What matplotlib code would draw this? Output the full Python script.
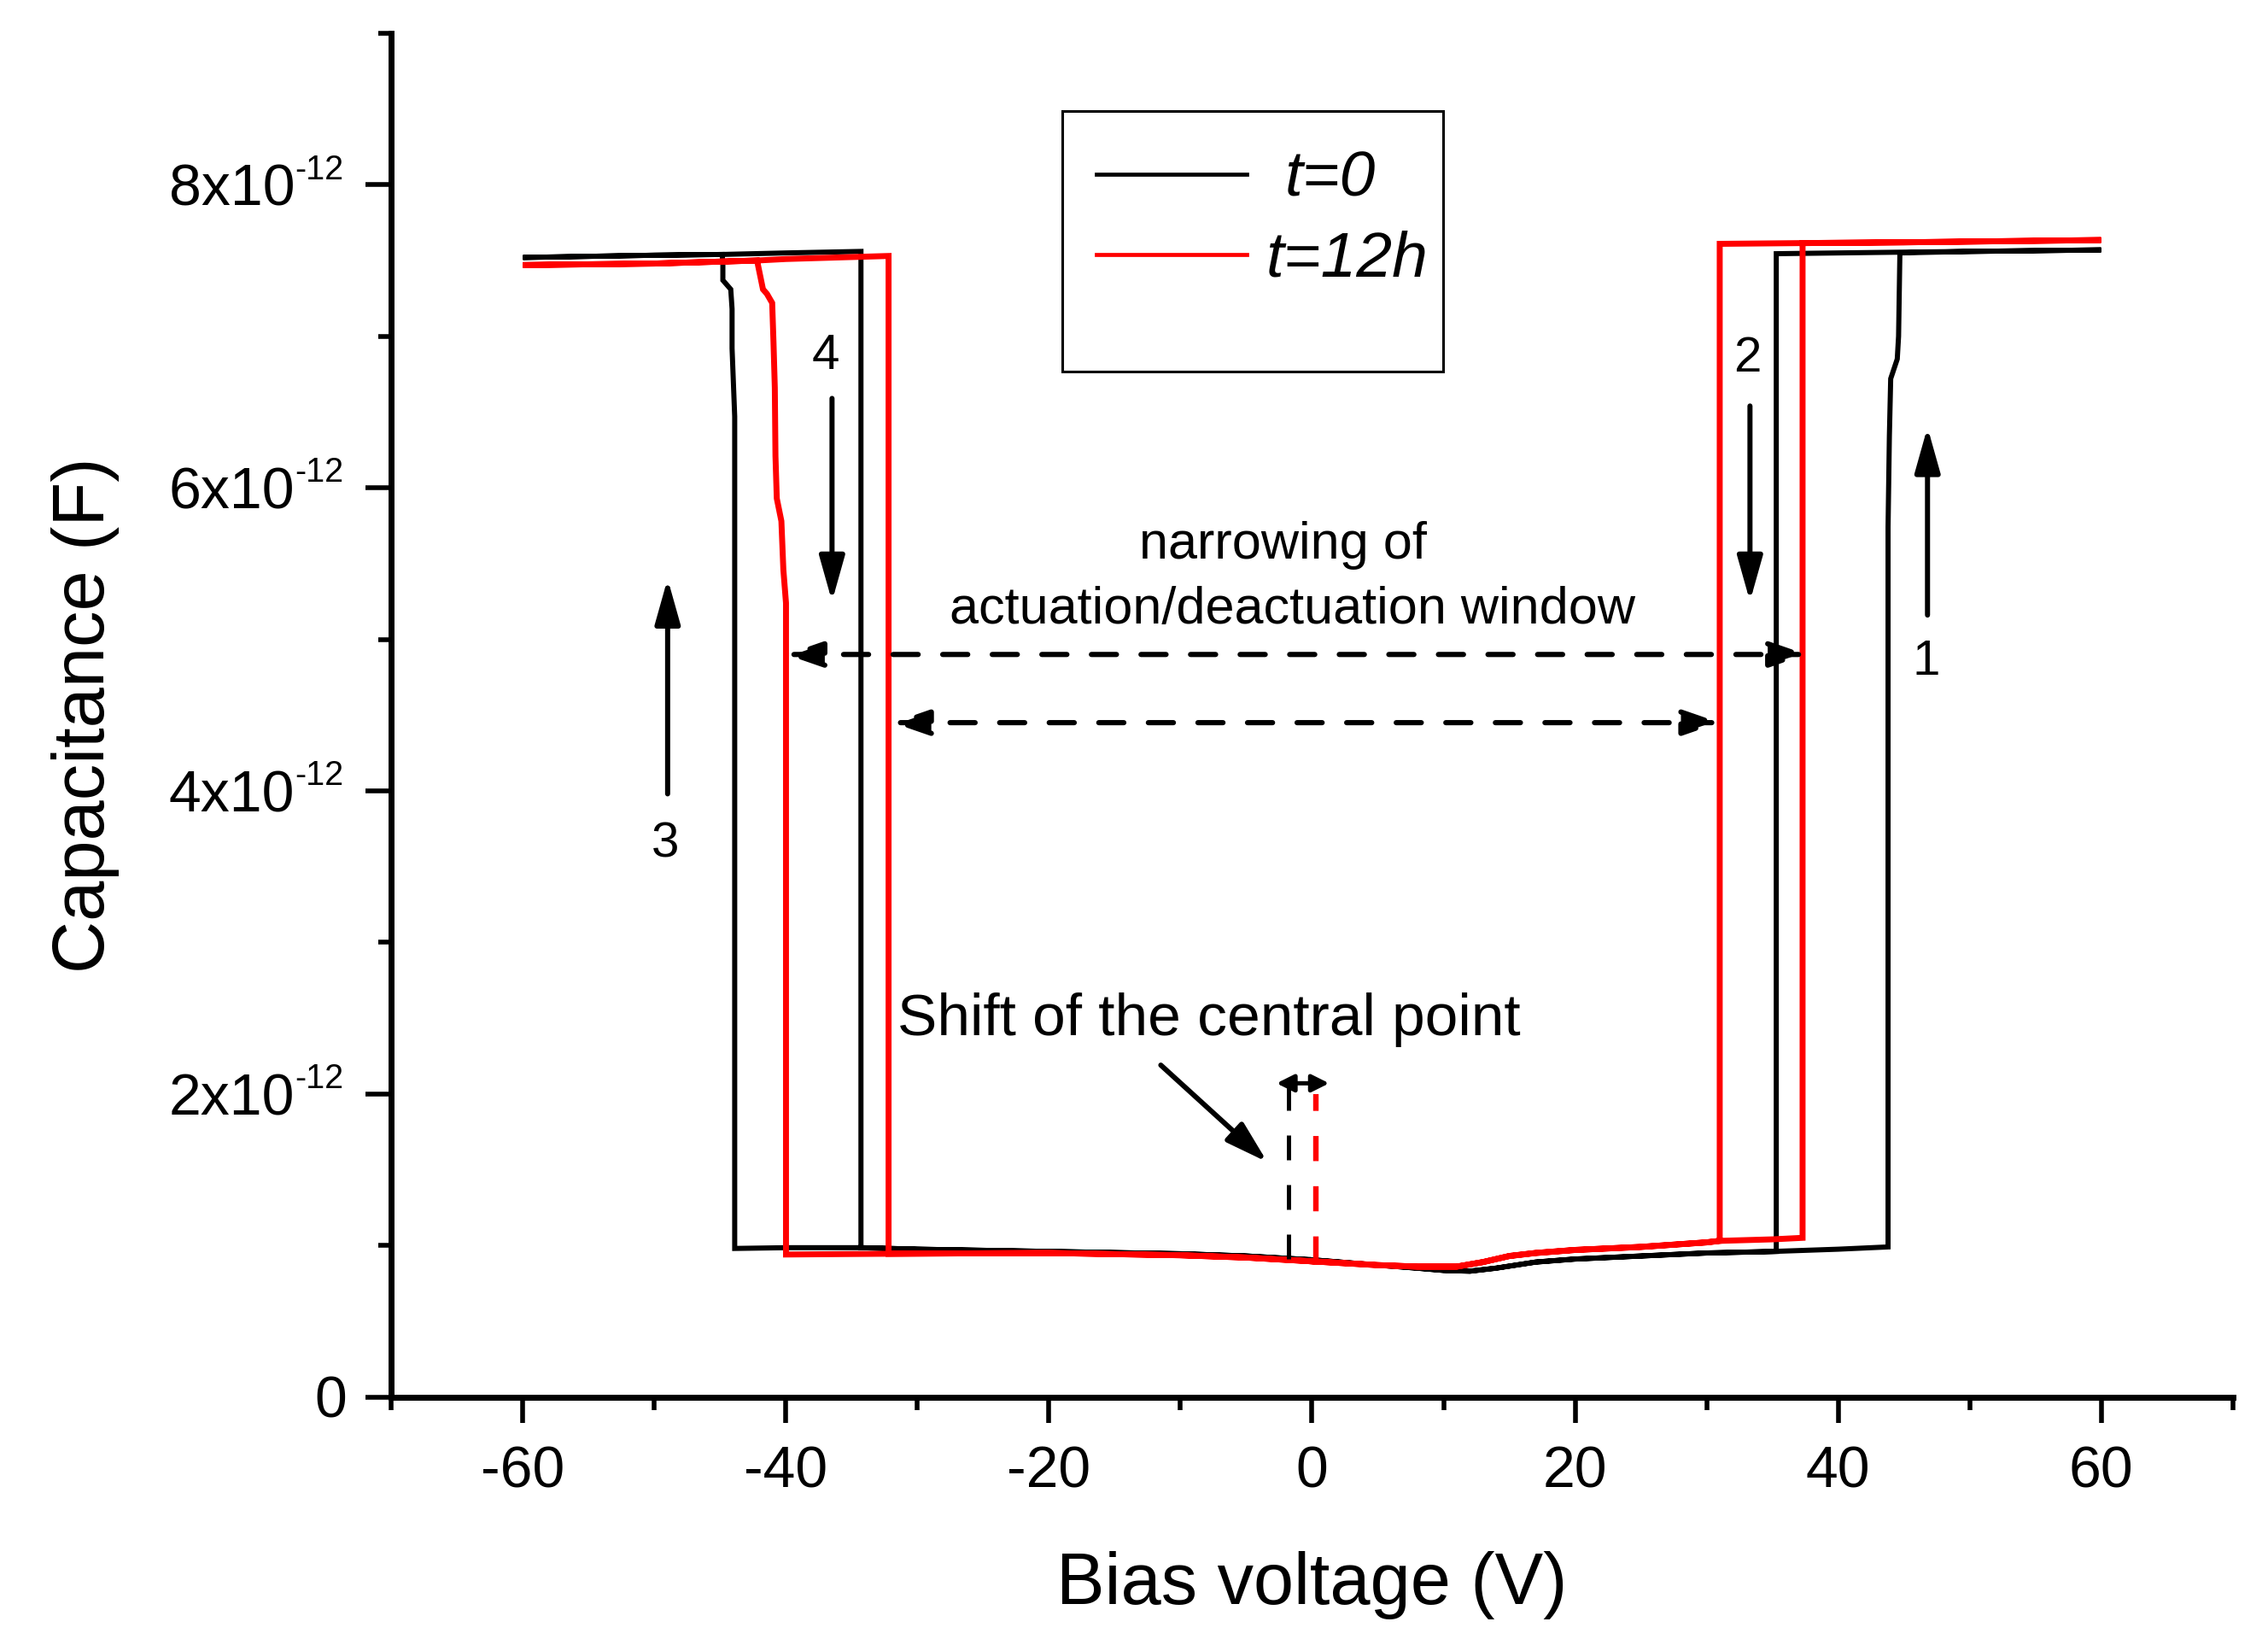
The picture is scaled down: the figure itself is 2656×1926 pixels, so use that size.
"""C-V hysteresis loops of the switch at t=0 and after 12 h."""

import matplotlib

matplotlib.use("Agg")
import matplotlib.pyplot as plt
import matplotlib.transforms as mtransforms
import numpy as np
from matplotlib.patches import Rectangle

PF = 1e-12

# t=0 loop, swept 0 -> +60 -> -60 -> 0 V (capacitance in pF)
v_t0 = [0, 5, 8, 10, 12, 14, 17, 20, 25, 30, 35, 40, 43.8, 43.8, 43.9, 44.0, 44.5, 44.6, 44.7, 50, 60,
        50, 44.7, 35.3, 35.3, 30, 25, 20, 17, 14, 12, 10, 8, 5, 0, -5, -10, -20, -30, -34.3, -40, -43.9,
        -43.9, -44.1, -44.1, -44.2, -44.8, -44.8, -44.85, -50, -60,
        -50, -44.85, -40, -34.3, -34.3, -30, -20, -10, -5, 0]
c_t0 = [0.905, 0.87, 0.85, 0.835, 0.83, 0.85, 0.89, 0.91, 0.93, 0.95, 0.96, 0.975, 0.99, 5.74, 6.34, 6.72, 6.85, 7.0, 7.55, 7.56, 7.57,
        7.56, 7.555, 7.545, 0.96, 0.95, 0.93, 0.91, 0.89, 0.85, 0.83, 0.835, 0.85, 0.87, 0.905, 0.93, 0.945, 0.96, 0.975, 0.985, 0.985, 0.98,
        6.47, 6.92, 7.18, 7.31, 7.37, 7.48, 7.54, 7.535, 7.52,
        7.535, 7.54, 7.55, 7.56, 0.985, 0.975, 0.96, 0.945, 0.93, 0.905]

# t=12h loop, same sweep order
v_t12 = [0, 5, 8, 11, 13, 15, 17, 20, 25, 30, 31.0, 35, 37.3, 37.3, 45, 50, 60,
         50, 45, 37.3, 31.0, 31.0, 30, 25, 20, 17, 15, 13, 11, 8, 5, 0, -5, -10, -20, -32.2, -40.0,
         -40.0, -40.2, -40.35, -40.7, -40.8, -40.85, -40.95, -41.05, -41.45, -41.75, -42.2, -50, -60,
         -50, -42.2, -40, -32.2, -32.2, -20, -10, -5, 0]
c_t12 = [0.895, 0.87, 0.86, 0.86, 0.89, 0.93, 0.95, 0.97, 0.99, 1.02, 1.03, 1.04, 1.05, 7.615, 7.62, 7.625, 7.635,
         7.625, 7.62, 7.615, 7.61, 1.03, 1.02, 0.99, 0.97, 0.95, 0.93, 0.89, 0.86, 0.86, 0.87, 0.895, 0.92, 0.935, 0.95, 0.945, 0.94,
         5.24, 5.46, 5.78, 5.93, 6.21, 6.66, 6.96, 7.22, 7.28, 7.31, 7.50, 7.48, 7.47,
         7.48, 7.50, 7.51, 7.53, 0.945, 0.95, 0.935, 0.92, 0.895]

x_major = [-60, -40, -20, 0, 20, 40, 60]
x_minor = [-70, -50, -30, -10, 10, 30, 50, 70]
y_major_pf = [0, 2, 4, 6, 8]
y_minor_pf = [1, 3, 5, 7, 9]

window_outer = (-40.0, 37.6)   # pull-in voltages after 12 h
window_inner = (-31.9, 31.0)   # release voltages after 12 h
center_t0 = -1.8
center_t12 = 0.3

plt.rcParams["font.family"] = ["Liberation Sans", "DejaVu Sans"]
plt.rcParams["axes.unicode_minus"] = False

fig = plt.figure(figsize=(26.56, 19.26), dpi=100)
ax = fig.add_axes([0.1726, 0.1508, 0.8118, 0.8290])

ax.plot(v_t0, np.array(c_t0) * PF, color="black", lw=4.3, solid_joinstyle="miter")
ax.plot(v_t12, np.array(c_t12) * PF, color="#ff0000", lw=5.0, solid_joinstyle="miter")

ax.set_xlim(-70, 70)
ax.set_ylim(0, 9 * PF)
ax.set_xticks(x_major)
ax.set_xticks(x_minor, minor=True)
ax.set_yticks(np.array(y_major_pf) * PF)
ax.set_yticks(np.array(y_minor_pf) * PF, minor=True)
ax.tick_params(which="major", direction="out", length=21.6, width=4.0, labelsize=49, pad=19)
ax.tick_params(which="minor", direction="out", length=10.8, width=4.0)
ax.tick_params(axis="y", labelleft=False)
for side in ("top", "right"):
    ax.spines[side].set_visible(False)
for side in ("left", "bottom"):
    ax.spines[side].set_linewidth(5.0)

# y tick labels in the "8x10^-12" form
ytrans = mtransforms.blended_transform_factory(ax.transAxes, ax.transData)
for v in y_major_pf:
    if v == 0:
        ax.annotate("0", xy=(0, 0), xycoords=ytrans, xytext=(-38, -17.5),
                    textcoords="offset points", ha="right", va="baseline", fontsize=49)
        continue
    ax.annotate(f"{v}x10", xy=(0, v * PF), xycoords=ytrans, xytext=(-81.5, -17.5),
                textcoords="offset points", ha="right", va="baseline", fontsize=49)
    ax.annotate("-12", xy=(0, v * PF), xycoords=ytrans, xytext=(-81.5, 4.8),
                textcoords="offset points", ha="left", va="baseline", fontsize=28.5)

ax.set_xlabel("Bias voltage (V)", fontsize=61)
ax.set_ylabel("Capacitance (F)", fontsize=61)
ax.xaxis.set_label_coords(0.5, -0.113)
ax.yaxis.set_label_coords(-0.1477, 0.5)


def arrow(x0, y0, x1, y1, style="-|>", ls="-", lw=4.3, color="black", hl=1.6, hw=0.45):
    ax.annotate("", xy=(x1, y1 * PF), xytext=(x0, y0 * PF),
                arrowprops=dict(arrowstyle=f"{style},head_length={hl},head_width={hw}",
                                color=color, lw=lw, linestyle=ls, shrinkA=0, shrinkB=0,
                                mutation_scale=20))


# sweep direction arrows and labels
arrow(46.8, 5.16, 46.8, 6.40)
arrow(33.3, 6.54, 33.3, 5.25)
arrow(-49.0, 3.98, -49.0, 5.40)
arrow(-36.5, 6.59, -36.5, 5.25)
ax.text(46.7, 4.85 * PF, "1", fontsize=42, ha="center", va="center")
ax.text(33.1, 6.85 * PF, "2", fontsize=42, ha="center", va="center")
ax.text(-49.2, 3.65 * PF, "3", fontsize=42, ha="center", va="center")
ax.text(-37.0, 6.87 * PF, "4", fontsize=42, ha="center", va="center")

# narrowing of the window
dash = (0, (4.8, 4.7))
arrow(window_outer[0], 4.90, window_outer[1], 4.90, style="<|-|>", ls=dash, lw=4.4, hl=1.3, hw=0.45)
arrow(window_inner[0], 4.45, window_inner[1], 4.45, style="<|-|>", ls=dash, lw=4.4, hl=1.3, hw=0.45)
ax.text(-2.2, 5.62 * PF, "narrowing of", fontsize=44, ha="center", va="center")
ax.text(-1.5, 5.19 * PF, "actuation/deactuation window", fontsize=44, ha="center", va="center")

# shift of the central point
ax.plot([center_t0, center_t0], [0.91 * PF, 2.07 * PF], color="black", lw=3.6, ls=(0, (5.8, 5.8)))
ax.plot([center_t12, center_t12], [0.895 * PF, 2.0 * PF], color="#ff0000", lw=4.6, ls=(0, (4.6, 4.6)))
arrow(-2.7, 2.07, 1.3, 2.07, style="<|-|>", lw=3.6, hl=0.6, hw=0.3)
arrow(-11.5, 2.19, -3.4, 1.55, hl=1.5, hw=0.45)
ax.text(-31.5, 2.49 * PF, "Shift of the central point", fontsize=50, ha="left", va="center")

# legend box
ax.add_patch(Rectangle((-18.96, 6.766 * PF), 28.93, 1.72 * PF, fill=False, lw=2.2, edgecolor="black"))
ax.plot([-16.39, -4.96], [8.069 * PF, 8.069 * PF], color="black", lw=3.4)
ax.plot([-16.39, -4.96], [7.538 * PF, 7.538 * PF], color="#ff0000", lw=3.4)
ax.text(-2.05, 7.925 * PF, "t=0", fontsize=54, style="italic", ha="left", va="baseline")
ax.text(-3.49, 7.398 * PF, "t=12h", fontsize=54, style="italic", ha="left", va="baseline")

fig.savefig("out.png", dpi=100)
